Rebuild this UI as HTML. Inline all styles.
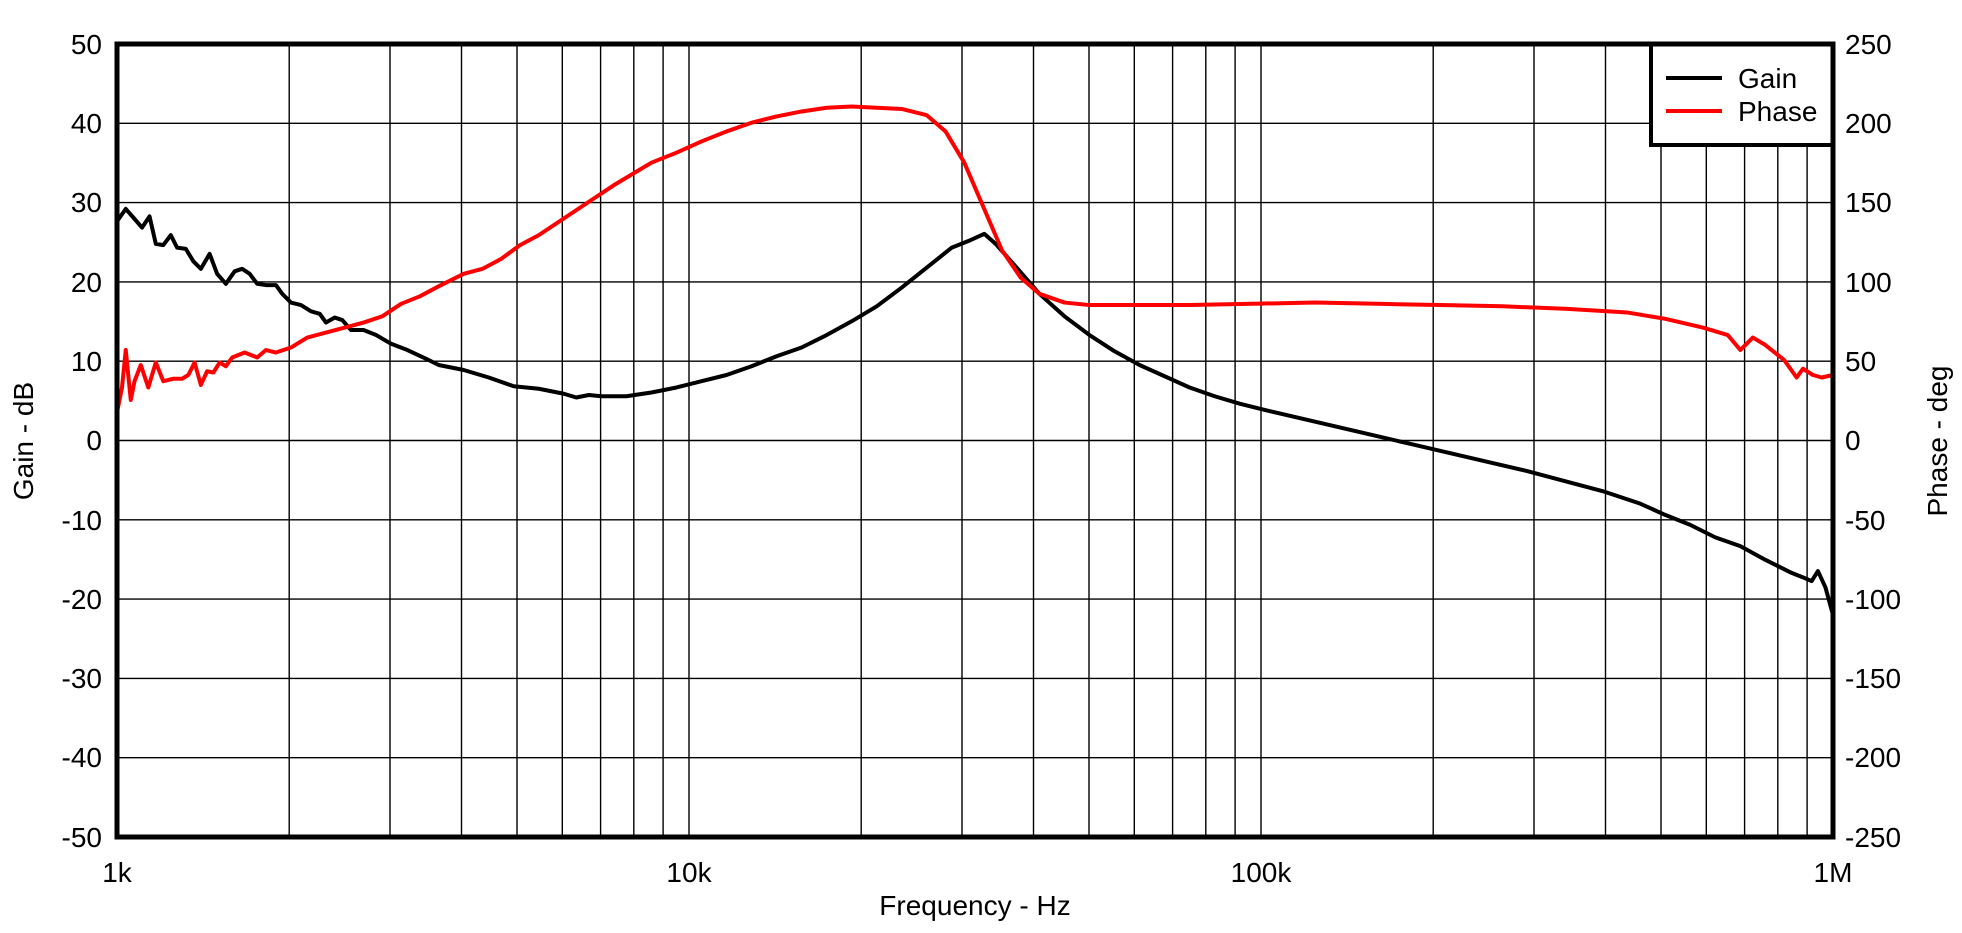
<!DOCTYPE html>
<html><head><meta charset="utf-8"><style>
html,body{margin:0;padding:0;background:#fff;}
svg{display:block;font-family:"Liberation Sans",Arial,sans-serif;}
</style></head><body>
<svg width="1962" height="933" viewBox="0 0 1962 933" xmlns="http://www.w3.org/2000/svg">
<g stroke="#000" stroke-width="1.4" fill="none">
<path d="M117 123.3H1833M117 202.6H1833M117 281.9H1833M117 361.2H1833M117 440.5H1833M117 519.8H1833M117 599.1H1833M117 678.4H1833M117 757.7H1833"/>
<path d="
M289.2 44V837M390 44V837M461.5 44V837M517 44V837M562.3 44V837M600.6 44V837M633.8 44V837M663.1 44V837M689 44V837
M861.2 44V837M962 44V837M1033.5 44V837M1089 44V837M1134.3 44V837M1172.6 44V837M1205.8 44V837M1235.1 44V837M1261 44V837
M1433.2 44V837M1534 44V837M1605.5 44V837M1661 44V837M1706.3 44V837M1744.6 44V837M1777.8 44V837M1807.1 44V837"/>
</g>
<g transform="matrix(1.2516,0,0,1.249,0.6,0.3)" fill="none" stroke-linejoin="round">
<polyline stroke="#000" stroke-width="4" vector-effect="non-scaling-stroke" points="93,177 100,167 107,175 113,182 119,173 124,195 130,196 136,188 141,198 148,199 154,209 160,215 167,203 173,219 180,227 187,217 193,215 199,219 205,227 212,228 220,228 225,235 232,242 240,244 248,249 255,251 260,258 267,254 273,256 280,264 290,264 300,268 312,275 325,280 340,287 350,292 370,296 390,302 410,309 430,311 450,315 460,318 470,316 480,317 500,317 520,314 540,310 560,305 580,300 600,293 620,285 640,278 660,268 680,257 700,245 720,230 740,214 760,198 775,192 786,187 795,195 810,212 830,235 850,253 870,268 890,281 910,292 930,301 950,310 970,317 990,323 1010,328 1040,335 1070,342 1100,349 1130,356 1160,363 1190,370 1220,377 1250,385 1280,393 1310,403 1330,412 1350,420 1370,430 1390,437 1410,448 1430,458 1440,462 1447,465 1452,457 1458,470 1464,492"/>
<polyline stroke="#f00" stroke-width="4" vector-effect="non-scaling-stroke" points="93,330 97,310 100,280 104,320 107,305 112,292 118,310 124,290 130,305 138,303 145,303 150,300 155,290 160,308 165,297 170,298 175,290 180,293 185,286 195,282 205,286 212,280 220,282 232,278 245,270 260,266 275,262 290,258 305,253 320,243 335,237 350,229 370,219 385,215 400,207 415,196 430,188 445,178 460,168 475,158 490,148 505,139 520,130 540,122 560,113 580,105 600,98 620,93 640,89 660,86 680,85 700,86 720,87 740,92 755,105 770,130 785,165 800,200 815,222 830,235 850,242 870,244 900,244 950,244 1000,243 1050,242 1100,243 1150,244 1200,245 1250,247 1300,250 1330,255 1360,262 1380,268 1390,280 1395,275 1400,270 1410,276 1415,280 1425,288 1435,302 1440,295 1448,300 1455,302 1464,300"/>
</g>
<rect x="1651" y="44" width="182" height="101" fill="#fff" stroke="#000" stroke-width="4"/>
<line x1="1666" y1="78" x2="1722" y2="78" stroke="#000" stroke-width="4"/>
<line x1="1666" y1="111" x2="1722" y2="111" stroke="#f00" stroke-width="4"/>
<text x="1738" y="88" font-size="28">Gain</text>
<text x="1738" y="121" font-size="28">Phase</text>
<rect x="117" y="44" width="1716" height="793" fill="none" stroke="#000" stroke-width="5"/>
<g font-size="28" text-anchor="end">
<text x="102" y="54">50</text><text x="102" y="133">40</text><text x="102" y="212">30</text><text x="102" y="292">20</text><text x="102" y="371">10</text><text x="102" y="450">0</text><text x="102" y="530">-10</text><text x="102" y="609">-20</text><text x="102" y="688">-30</text><text x="102" y="767">-40</text><text x="102" y="847">-50</text>
</g>
<g font-size="28" text-anchor="start">
<text x="1845" y="54">250</text><text x="1845" y="133">200</text><text x="1845" y="212">150</text><text x="1845" y="292">100</text><text x="1845" y="371">50</text><text x="1845" y="450">0</text><text x="1845" y="530">-50</text><text x="1845" y="609">-100</text><text x="1845" y="688">-150</text><text x="1845" y="767">-200</text><text x="1845" y="847">-250</text>
</g>
<g font-size="28" text-anchor="middle">
<text x="117" y="882">1k</text><text x="689" y="882">10k</text><text x="1261" y="882">100k</text><text x="1833" y="882">1M</text>
<text x="975" y="915">Frequency - Hz</text>
<text transform="translate(33,441) rotate(-90)">Gain - dB</text>
<text transform="translate(1947,441) rotate(-90)">Phase - deg</text>
</g>
</svg>
</body></html>
